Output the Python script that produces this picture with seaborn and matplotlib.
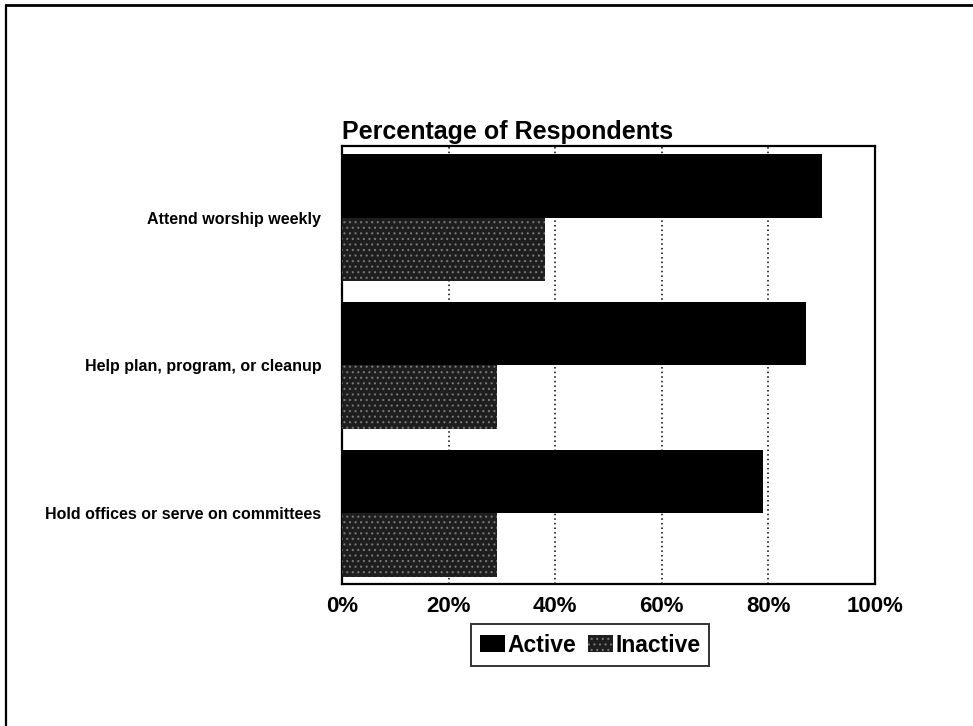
import matplotlib
matplotlib.use("Agg")
import matplotlib.pyplot as plt
from matplotlib.patches import Patch
from matplotlib.lines import Line2D
import seaborn as sns
import pandas as pd

# Survey items and response shares (percent of respondents)
activities = [
    "Attend worship weekly",
    "Help plan, program, or cleanup",
    "Hold offices or serve on committees",
]
active_pct = [90, 87, 79]
inactive_pct = [38, 29, 29]
groups = ["Active", "Inactive"]
x_ticks = [0, 20, 40, 60, 80, 100]
x_tick_labels = ["0%", "20%", "40%", "60%", "80%", "100%"]
title = "Percentage of Respondents"

df = pd.DataFrame({
    "activity": activities * 2,
    "group": [groups[0]] * len(activities) + [groups[1]] * len(activities),
    "pct": active_pct + inactive_pct,
})

sns.set_theme(style="white")
plt.rcParams["font.family"] = ["Liberation Sans", "DejaVu Sans"]
plt.rcParams["hatch.linewidth"] = 0.8
plt.rcParams["text.color"] = "black"

W, H = 973, 726
fig = plt.figure(figsize=(W / 100, H / 100), dpi=100)
fig.patch.set_facecolor("white")

left, right, top, bottom = 342, 875, 146, 584
ax = fig.add_axes([left / W, 1 - bottom / H, (right - left) / W, (bottom - top) / H])

dark = "#000000"
stipple_face = "#1e1e1e"
stipple_dot = "#777777"

sns.barplot(
    data=df, y="activity", x="pct", hue="group", orient="h",
    palette={groups[0]: dark, groups[1]: stipple_face},
    width=0.86, dodge=True, legend=False, ax=ax, saturation=1,
    linewidth=0, zorder=3,
)

# stippled texture on the Inactive bars
for bar in ax.containers[1]:
    bar.set_hatch("...")
    bar.set_edgecolor(stipple_dot)
    bar.set_linewidth(0)

ax.set_xlim(0, 100)
ax.set_ylim(2.48, -0.484)
ax.set_xticks(x_ticks)
ax.set_xticklabels(x_tick_labels, fontsize=16, fontweight="bold")
ax.tick_params(axis="x", length=0, pad=9, colors="black")
ax.tick_params(axis="y", length=0, pad=15, colors="black")
for lbl in ax.get_yticklabels():
    lbl.set_fontsize(11.5)
    lbl.set_fontweight("bold")
ax.set_xlabel("")
ax.set_ylabel("")

for v in x_ticks[1:-1]:
    ax.axvline(v, color="black", linestyle=(0, (1, 2)), linewidth=1.1, zorder=1)

for s in ax.spines.values():
    s.set_visible(True)
    s.set_color("black")
    s.set_linewidth(1.6)

ax.set_title(title, loc="left", fontsize=18, fontweight="bold", pad=5, color="black")

handles = [
    Patch(facecolor=dark, edgecolor=dark, linewidth=0),
    Patch(facecolor=stipple_face, edgecolor=stipple_dot, hatch="...", linewidth=0),
]
leg = fig.legend(
    handles, groups, loc="center", bbox_to_anchor=(590 / W, 1 - 645 / H),
    ncol=2, frameon=True, fancybox=False, handlelength=1.1,
    handleheight=0.75, handletextpad=0.1, columnspacing=0.5, borderpad=0.4,
    borderaxespad=0, prop={"weight": "bold", "size": 16.5}, labelcolor="black",
)
leg.get_frame().set_edgecolor("black")
leg.get_frame().set_linewidth(1.4)

# page frame lines along the top and left edge
fig.add_artist(Line2D([6 / W, 1], [1 - 5 / H, 1 - 5 / H], color="black", linewidth=2))
fig.add_artist(Line2D([6 / W, 6 / W], [0, 1 - 5 / H], color="black", linewidth=1.6))

fig.savefig("out.png", dpi=100, facecolor="white")
